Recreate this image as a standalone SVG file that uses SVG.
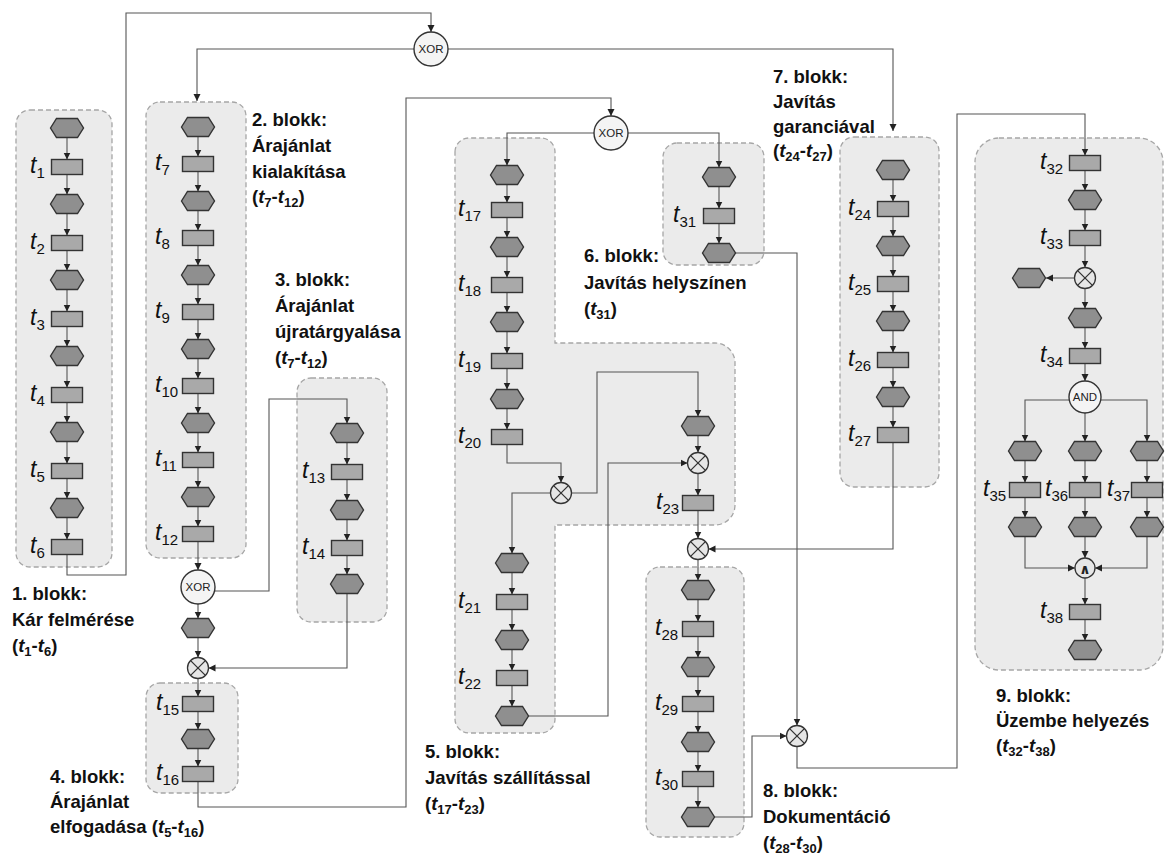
<svg xmlns="http://www.w3.org/2000/svg" width="1166" height="854" viewBox="0 0 1166 854">
<defs>
<style>
.blk{fill:#ebebeb;stroke:#a6a6a6;stroke-width:1.3;stroke-dasharray:5 3}
.hex{fill:#8f8f8f;stroke:#333;stroke-width:1.4}
.task{fill:#a9a9a9;stroke:#333;stroke-width:1.4}
.gate{fill:#f4f4f4;stroke:#333;stroke-width:1.4}
.xg{fill:#e6e6e6;stroke:#333;stroke-width:1.3}
.gt{font-family:"Liberation Sans",Arial,sans-serif;font-size:11.5px;fill:#222;text-anchor:middle}
.tl{font-family:"Liberation Sans",Arial,sans-serif;font-size:23px;font-style:italic;fill:#111}
.sb{font-size:15px;font-style:normal}
.lb{font-family:"Liberation Sans",Arial,sans-serif;font-size:18.5px;font-weight:bold;fill:#111}
.it{font-style:italic}
.ls{font-size:13px}
.cn path{fill:none;stroke:#555;stroke-width:1.1;marker-end:url(#ar)}
</style>
<marker id="ar" markerWidth="8" markerHeight="8" refX="7" refY="4" orient="auto" markerUnits="userSpaceOnUse"><path d="M0,0.5 L7,4 L0,7.5 Z" fill="#222"/></marker>
<path id="hx" d="M-16.5,0 L-10.5,-9.5 L10.5,-9.5 L16.5,0 L10.5,9.5 L-10.5,9.5 Z"/>
<rect id="rc" x="-15.5" y="-7.5" width="31" height="15"/>
<g id="xo"><circle r="10.5"/><path d="M-7.4,-7.4 L7.4,7.4 M7.4,-7.4 L-7.4,7.4"/></g>
</defs>

<g id="blocks">
<rect id="blk1" class="blk" x="16" y="110" width="96" height="457" rx="14"/>
<rect id="blk2" class="blk" x="146" y="102" width="100" height="456" rx="14"/>
<rect id="blk3" class="blk" x="297" y="378" width="90" height="244" rx="14"/>
<rect id="blk4" class="blk" x="146" y="683" width="92" height="110" rx="14"/>
<path id="blk5" class="blk" d="M455,152 A14,14 0 0 1 469,138 H541 A14,14 0 0 1 555,152 V343 H715 A20,20 0 0 1 735,363 V505 A20,20 0 0 1 715,525 H555 V719 A14,14 0 0 1 541,733 H469 A14,14 0 0 1 455,719 Z"/>
<rect id="blk6" class="blk" x="663" y="143" width="101" height="122" rx="14"/>
<rect id="blk7" class="blk" x="840" y="137" width="99" height="350" rx="14"/>
<rect id="blk8" class="blk" x="646" y="567" width="98" height="270" rx="14"/>
<rect id="blk9" class="blk" x="975" y="138" width="188" height="532" rx="24"/>
</g>

<g id="connectors" class="cn">
<!-- block 1 -->
<path d="M67,137.5V159.5"/><path d="M67,174.5V194.5"/><path d="M67,213.5V235.5"/><path d="M67,250.5V270.5"/><path d="M67,289.5V311.5"/><path d="M67,326.5V346.5"/><path d="M67,365.5V387.5"/><path d="M67,402.5V422.5"/><path d="M67,441.5V463.5"/><path d="M67,478.5V498.5"/><path d="M67,517.5V539.5"/>
<!-- block 2 -->
<path d="M198,136.5V156.5"/><path d="M198,171.5V191.5"/><path d="M198,210.5V230.5"/><path d="M198,245.5V265.5"/><path d="M198,284.5V304.5"/><path d="M198,319.5V339.5"/><path d="M198,358.5V378.5"/><path d="M198,393.5V413.5"/><path d="M198,432.5V452.5"/><path d="M198,467.5V487.5"/><path d="M198,506.5V526.5"/>
<!-- block 3 -->
<path d="M347,442.5V464.5"/><path d="M347,479.5V500.5"/><path d="M347,519.5V540.5"/><path d="M347,555.5V574.5"/>
<!-- block 4 -->
<path d="M198,711.5V729.5"/><path d="M198,748.5V766.5"/>
<!-- block 5 -->
<path d="M507,184.5V202.5"/><path d="M507,217.5V237.5"/><path d="M507,256.5V277.5"/><path d="M507,292.5V312.5"/><path d="M507,331.5V353.5"/><path d="M507,368.5V389.5"/><path d="M507,408.5V429.5"/>
<path d="M512,572.5V594.5"/><path d="M512,609.5V630.5"/><path d="M512,649.5V670.5"/><path d="M512,685.5V706.5"/>
<!-- block 6 -->
<path d="M719,186.5V208.5"/><path d="M719,223.5V243.5"/>
<!-- block 7 -->
<path d="M893,179.5V201.5"/><path d="M893,216.5V236.5"/><path d="M893,255.5V276.5"/><path d="M893,291.5V311.5"/><path d="M893,330.5V352.5"/><path d="M893,367.5V387.5"/><path d="M893,406.5V427.5"/>
<!-- block 8 -->
<path d="M698,599.5V621.5"/><path d="M698,636.5V657.5"/><path d="M698,676.5V696.5"/><path d="M698,711.5V732.5"/><path d="M698,751.5V771.5"/><path d="M698,786.5V807.5"/>
<!-- block 9 -->
<path d="M1085,170.5V190.5"/><path d="M1085,209.5V230.5"/><path d="M1085,245.5V267.5"/><path d="M1085,288.5V308.5"/><path d="M1085,327.5V348.5"/><path d="M1085,363.5V381"/>
<path d="M1074.5,278H1046"/>
<path d="M1069,400H1025V441.5"/><path d="M1085,413V441.5"/><path d="M1101,400H1147V441.5"/>
<path d="M1025,460.5V482.5"/><path d="M1085,460.5V482.5"/><path d="M1147,460.5V482.5"/>
<path d="M1025,497.5V517.5"/><path d="M1085,497.5V517.5"/><path d="M1147,497.5V517.5"/>
<path d="M1025,536.5V568H1075"/><path d="M1085,536.5V558"/><path d="M1147,536.5V568H1095"/>
<path d="M1085,578V604.5"/><path d="M1085,619.5V640.5"/>
<!-- long connectors -->
<path d="M67,554.5V575H126V13H431V32"/>
<path d="M414,49H197V101"/>
<path d="M448,49H893V131"/>
<path d="M198,541.5V570"/>
<path d="M198,604V618.5"/>
<path d="M214,591H269V399H347V423.5"/>
<path d="M198,637.5V657.5"/>
<path d="M347,593.5V668H208.5"/>
<path d="M198,678.5V696.5"/>
<path d="M198,781.5V807H406V98H611V116"/>
<path d="M594,133H507V165.5"/>
<path d="M628,133H719V167.5"/>
<path d="M507,444.5V463H561V482.5"/>
<path d="M550.5,493H512V553.5"/>
<path d="M571.5,493H597V372H698V416.5"/>
<path d="M698,435.5V452.5"/>
<path d="M528.5,716H608V463H687.5"/>
<path d="M698,473.5V495.5"/>
<path d="M698,510.5V538.5"/>
<path d="M893,442.5V549H708.5"/>
<path d="M698,559.5V580.5"/>
<path d="M735.5,253H797V725.5"/>
<path d="M714.5,817H752V736H786.5"/>
<path d="M797,746.5V768H957V114H1085V155.5"/>
</g>

<g id="nodes">
<!-- block 1 -->
<g id="b1-e1"><use href="#hx" class="hex" x="67" y="128"/></g>
<g id="b1-t1"><use href="#rc" class="task" x="67" y="167"/><text class="tl" x="30" y="173">t<tspan class="sb" dy="5">1</tspan></text></g>
<g id="b1-e2"><use href="#hx" class="hex" x="67" y="204"/></g>
<g id="b1-t2"><use href="#rc" class="task" x="67" y="243"/><text class="tl" x="30" y="249">t<tspan class="sb" dy="5">2</tspan></text></g>
<g id="b1-e3"><use href="#hx" class="hex" x="67" y="280"/></g>
<g id="b1-t3"><use href="#rc" class="task" x="67" y="319"/><text class="tl" x="30" y="325">t<tspan class="sb" dy="5">3</tspan></text></g>
<g id="b1-e4"><use href="#hx" class="hex" x="67" y="356"/></g>
<g id="b1-t4"><use href="#rc" class="task" x="67" y="395"/><text class="tl" x="30" y="401">t<tspan class="sb" dy="5">4</tspan></text></g>
<g id="b1-e5"><use href="#hx" class="hex" x="67" y="432"/></g>
<g id="b1-t5"><use href="#rc" class="task" x="67" y="471"/><text class="tl" x="30" y="477">t<tspan class="sb" dy="5">5</tspan></text></g>
<g id="b1-e6"><use href="#hx" class="hex" x="67" y="508"/></g>
<g id="b1-t6"><use href="#rc" class="task" x="67" y="547"/><text class="tl" x="30" y="553">t<tspan class="sb" dy="5">6</tspan></text></g>
<!-- top XOR -->
<g id="xor1"><circle class="gate" cx="431" cy="49" r="17"/><text class="gt" x="431" y="53">XOR</text></g>
<!-- block 2 -->
<g id="b2-e1"><use href="#hx" class="hex" x="198" y="127"/></g>
<g id="b2-t7"><use href="#rc" class="task" x="198" y="164"/><text class="tl" x="155" y="170">t<tspan class="sb" dy="5">7</tspan></text></g>
<g id="b2-e2"><use href="#hx" class="hex" x="198" y="201"/></g>
<g id="b2-t8"><use href="#rc" class="task" x="198" y="238"/><text class="tl" x="155" y="244">t<tspan class="sb" dy="5">8</tspan></text></g>
<g id="b2-e3"><use href="#hx" class="hex" x="198" y="275"/></g>
<g id="b2-t9"><use href="#rc" class="task" x="198" y="312"/><text class="tl" x="155" y="318">t<tspan class="sb" dy="5">9</tspan></text></g>
<g id="b2-e4"><use href="#hx" class="hex" x="198" y="349"/></g>
<g id="b2-t10"><use href="#rc" class="task" x="198" y="386"/><text class="tl" x="155" y="392">t<tspan class="sb" dy="5">10</tspan></text></g>
<g id="b2-e5"><use href="#hx" class="hex" x="198" y="423"/></g>
<g id="b2-t11"><use href="#rc" class="task" x="198" y="460"/><text class="tl" x="155" y="466">t<tspan class="sb" dy="5">11</tspan></text></g>
<g id="b2-e6"><use href="#hx" class="hex" x="198" y="497"/></g>
<g id="b2-t12"><use href="#rc" class="task" x="198" y="534"/><text class="tl" x="155" y="540">t<tspan class="sb" dy="5">12</tspan></text></g>
<g id="xor2"><circle class="gate" cx="198" cy="587" r="17"/><text class="gt" x="198" y="591">XOR</text></g>
<g id="e-after-xor2"><use href="#hx" class="hex" x="198" y="628"/></g>
<g id="xo1"><use href="#xo" class="xg" x="198" y="668"/></g>
<!-- block 3 -->
<g id="b3-e1"><use href="#hx" class="hex" x="347" y="433"/></g>
<g id="b3-t13"><use href="#rc" class="task" x="347" y="472"/><text class="tl" x="302" y="478">t<tspan class="sb" dy="5">13</tspan></text></g>
<g id="b3-e2"><use href="#hx" class="hex" x="347" y="510"/></g>
<g id="b3-t14"><use href="#rc" class="task" x="347" y="548"/><text class="tl" x="302" y="554">t<tspan class="sb" dy="5">14</tspan></text></g>
<g id="b3-e3"><use href="#hx" class="hex" x="347" y="584"/></g>
<!-- block 4 -->
<g id="b4-t15"><use href="#rc" class="task" x="198" y="704"/><text class="tl" x="156" y="710">t<tspan class="sb" dy="5">15</tspan></text></g>
<g id="b4-e1"><use href="#hx" class="hex" x="198" y="739"/></g>
<g id="b4-t16"><use href="#rc" class="task" x="198" y="774"/><text class="tl" x="156" y="780">t<tspan class="sb" dy="5">16</tspan></text></g>
<!-- XOR 3 -->
<g id="xor3"><circle class="gate" cx="611" cy="133" r="17"/><text class="gt" x="611" y="137">XOR</text></g>
<!-- block 5 -->
<g id="b5-e1"><use href="#hx" class="hex" x="507" y="175"/></g>
<g id="b5-t17"><use href="#rc" class="task" x="507" y="210"/><text class="tl" x="458" y="216">t<tspan class="sb" dy="5">17</tspan></text></g>
<g id="b5-e2"><use href="#hx" class="hex" x="507" y="247"/></g>
<g id="b5-t18"><use href="#rc" class="task" x="507" y="285"/><text class="tl" x="458" y="291">t<tspan class="sb" dy="5">18</tspan></text></g>
<g id="b5-e3"><use href="#hx" class="hex" x="507" y="322"/></g>
<g id="b5-t19"><use href="#rc" class="task" x="507" y="361"/><text class="tl" x="458" y="367">t<tspan class="sb" dy="5">19</tspan></text></g>
<g id="b5-e4"><use href="#hx" class="hex" x="507" y="399"/></g>
<g id="b5-t20"><use href="#rc" class="task" x="507" y="437"/><text class="tl" x="458" y="443">t<tspan class="sb" dy="5">20</tspan></text></g>
<g id="xo2"><use href="#xo" class="xg" x="561" y="493"/></g>
<g id="b5-e5"><use href="#hx" class="hex" x="512" y="563"/></g>
<g id="b5-t21"><use href="#rc" class="task" x="512" y="602"/><text class="tl" x="458" y="608">t<tspan class="sb" dy="5">21</tspan></text></g>
<g id="b5-e6"><use href="#hx" class="hex" x="512" y="640"/></g>
<g id="b5-t22"><use href="#rc" class="task" x="512" y="678"/><text class="tl" x="458" y="684">t<tspan class="sb" dy="5">22</tspan></text></g>
<g id="b5-e7"><use href="#hx" class="hex" x="512" y="716"/></g>
<g id="b5-e8"><use href="#hx" class="hex" x="698" y="426"/></g>
<g id="xo3"><use href="#xo" class="xg" x="698" y="463"/></g>
<g id="b5-t23"><use href="#rc" class="task" x="698" y="503"/><text class="tl" x="656" y="509">t<tspan class="sb" dy="5">23</tspan></text></g>
<g id="xo4"><use href="#xo" class="xg" x="698" y="549"/></g>
<!-- block 6 -->
<g id="b6-e1"><use href="#hx" class="hex" x="719" y="177"/></g>
<g id="b6-t31"><use href="#rc" class="task" x="719" y="216"/><text class="tl" x="673" y="222">t<tspan class="sb" dy="5">31</tspan></text></g>
<g id="b6-e2"><use href="#hx" class="hex" x="719" y="253"/></g>
<!-- block 7 -->
<g id="b7-e1"><use href="#hx" class="hex" x="893" y="170"/></g>
<g id="b7-t24"><use href="#rc" class="task" x="893" y="209"/><text class="tl" x="848" y="215">t<tspan class="sb" dy="5">24</tspan></text></g>
<g id="b7-e2"><use href="#hx" class="hex" x="893" y="246"/></g>
<g id="b7-t25"><use href="#rc" class="task" x="893" y="284"/><text class="tl" x="848" y="290">t<tspan class="sb" dy="5">25</tspan></text></g>
<g id="b7-e3"><use href="#hx" class="hex" x="893" y="321"/></g>
<g id="b7-t26"><use href="#rc" class="task" x="893" y="360"/><text class="tl" x="848" y="366">t<tspan class="sb" dy="5">26</tspan></text></g>
<g id="b7-e4"><use href="#hx" class="hex" x="893" y="397"/></g>
<g id="b7-t27"><use href="#rc" class="task" x="893" y="435"/><text class="tl" x="848" y="441">t<tspan class="sb" dy="5">27</tspan></text></g>
<!-- block 8 -->
<g id="b8-e1"><use href="#hx" class="hex" x="698" y="590"/></g>
<g id="b8-t28"><use href="#rc" class="task" x="698" y="629"/><text class="tl" x="655" y="635">t<tspan class="sb" dy="5">28</tspan></text></g>
<g id="b8-e2"><use href="#hx" class="hex" x="698" y="667"/></g>
<g id="b8-t29"><use href="#rc" class="task" x="698" y="704"/><text class="tl" x="655" y="710">t<tspan class="sb" dy="5">29</tspan></text></g>
<g id="b8-e3"><use href="#hx" class="hex" x="698" y="742"/></g>
<g id="b8-t30"><use href="#rc" class="task" x="698" y="779"/><text class="tl" x="655" y="785">t<tspan class="sb" dy="5">30</tspan></text></g>
<g id="b8-e4"><use href="#hx" class="hex" x="698" y="817"/></g>
<g id="xo5"><use href="#xo" class="xg" x="797" y="736"/></g>
<!-- block 9 -->
<g id="b9-t32"><use href="#rc" class="task" x="1085" y="163"/><text class="tl" x="1040" y="169">t<tspan class="sb" dy="5">32</tspan></text></g>
<g id="b9-e1"><use href="#hx" class="hex" x="1085" y="200"/></g>
<g id="b9-t33"><use href="#rc" class="task" x="1085" y="238"/><text class="tl" x="1040" y="244">t<tspan class="sb" dy="5">33</tspan></text></g>
<g id="xo6"><use href="#xo" class="xg" x="1085" y="278"/></g>
<g id="b9-e-side"><use href="#hx" class="hex" x="1029" y="278"/></g>
<g id="b9-e2"><use href="#hx" class="hex" x="1085" y="318"/></g>
<g id="b9-t34"><use href="#rc" class="task" x="1085" y="356"/><text class="tl" x="1040" y="362">t<tspan class="sb" dy="5">34</tspan></text></g>
<g id="and1"><circle class="gate" cx="1085" cy="397" r="16"/><text class="gt" x="1085" y="401">AND</text></g>
<g id="b9-e3"><use href="#hx" class="hex" x="1025" y="451"/></g>
<g id="b9-e4"><use href="#hx" class="hex" x="1085" y="451"/></g>
<g id="b9-e5"><use href="#hx" class="hex" x="1147" y="451"/></g>
<g id="b9-t35"><use href="#rc" class="task" x="1025" y="490"/><text class="tl" x="983" y="496">t<tspan class="sb" dy="5">35</tspan></text></g>
<g id="b9-t36"><use href="#rc" class="task" x="1085" y="490"/><text class="tl" x="1045" y="496">t<tspan class="sb" dy="5">36</tspan></text></g>
<g id="b9-t37"><use href="#rc" class="task" x="1147" y="490"/><text class="tl" x="1107" y="496">t<tspan class="sb" dy="5">37</tspan></text></g>
<g id="b9-e6"><use href="#hx" class="hex" x="1025" y="527"/></g>
<g id="b9-e7"><use href="#hx" class="hex" x="1085" y="527"/></g>
<g id="b9-e8"><use href="#hx" class="hex" x="1147" y="527"/></g>
<g id="and2"><circle class="xg" cx="1085" cy="568" r="10"/><text x="1085" y="573.5" text-anchor="middle" font-family="DejaVu Sans, sans-serif" font-size="14" font-weight="bold" fill="#222">∧</text></g>
<g id="b9-t38"><use href="#rc" class="task" x="1085" y="612"/><text class="tl" x="1040" y="618">t<tspan class="sb" dy="5">38</tspan></text></g>
<g id="b9-e9"><use href="#hx" class="hex" x="1085" y="650"/></g>
</g>

<g id="labels">
<g id="lbl1">
<text class="lb" x="12" y="600">1. blokk:</text>
<text class="lb" x="12" y="626">Kár felmérése</text>
<text class="lb" x="12" y="652">(<tspan class="it">t</tspan><tspan class="ls" dy="4">1</tspan><tspan dy="-4">-</tspan><tspan class="it">t</tspan><tspan class="ls" dy="4">6</tspan><tspan dy="-4">)</tspan></text>
</g>
<g id="lbl2">
<text class="lb" x="252" y="126">2. blokk:</text>
<text class="lb" x="252" y="152">Árajánlat</text>
<text class="lb" x="252" y="178">kialakítása</text>
<text class="lb" x="252" y="203">(<tspan class="it">t</tspan><tspan class="ls" dy="4">7</tspan><tspan dy="-4">-</tspan><tspan class="it">t</tspan><tspan class="ls" dy="4">12</tspan><tspan dy="-4">)</tspan></text>
</g>
<g id="lbl3">
<text class="lb" x="275" y="286">3. blokk:</text>
<text class="lb" x="275" y="312">Árajánlat</text>
<text class="lb" x="275" y="338">újratárgyalása</text>
<text class="lb" x="275" y="364">(<tspan class="it">t</tspan><tspan class="ls" dy="4">7</tspan><tspan dy="-4">-</tspan><tspan class="it">t</tspan><tspan class="ls" dy="4">12</tspan><tspan dy="-4">)</tspan></text>
</g>
<g id="lbl4">
<text class="lb" x="50" y="783">4. blokk:</text>
<text class="lb" x="50" y="808">Árajánlat</text>
<text class="lb" x="50" y="833">elfogadása (<tspan class="it">t</tspan><tspan class="ls" dy="4">5</tspan><tspan dy="-4">-</tspan><tspan class="it">t</tspan><tspan class="ls" dy="4">16</tspan><tspan dy="-4">)</tspan></text>
</g>
<g id="lbl5">
<text class="lb" x="425" y="758">5. blokk:</text>
<text class="lb" x="425" y="784">Javítás szállítással</text>
<text class="lb" x="425" y="810">(<tspan class="it">t</tspan><tspan class="ls" dy="4">17</tspan><tspan dy="-4">-</tspan><tspan class="it">t</tspan><tspan class="ls" dy="4">23</tspan><tspan dy="-4">)</tspan></text>
</g>
<g id="lbl6">
<text class="lb" x="584" y="262">6. blokk:</text>
<text class="lb" x="584" y="289">Javítás helyszínen</text>
<text class="lb" x="584" y="315">(<tspan class="it">t</tspan><tspan class="ls" dy="4">31</tspan><tspan dy="-4">)</tspan></text>
</g>
<g id="lbl7">
<text class="lb" x="773" y="83">7. blokk:</text>
<text class="lb" x="773" y="108">Javítás</text>
<text class="lb" x="773" y="133">garanciával</text>
<text class="lb" x="773" y="157">(<tspan class="it">t</tspan><tspan class="ls" dy="4">24</tspan><tspan dy="-4">-</tspan><tspan class="it">t</tspan><tspan class="ls" dy="4">27</tspan><tspan dy="-4">)</tspan></text>
</g>
<g id="lbl8">
<text class="lb" x="763" y="797">8. blokk:</text>
<text class="lb" x="763" y="823">Dokumentáció</text>
<text class="lb" x="763" y="849">(<tspan class="it">t</tspan><tspan class="ls" dy="4">28</tspan><tspan dy="-4">-</tspan><tspan class="it">t</tspan><tspan class="ls" dy="4">30</tspan><tspan dy="-4">)</tspan></text>
</g>
<g id="lbl9">
<text class="lb" x="996" y="702">9. blokk:</text>
<text class="lb" x="996" y="727">Üzembe helyezés</text>
<text class="lb" x="996" y="752">(<tspan class="it">t</tspan><tspan class="ls" dy="4">32</tspan><tspan dy="-4">-</tspan><tspan class="it">t</tspan><tspan class="ls" dy="4">38</tspan><tspan dy="-4">)</tspan></text>
</g>
</g>
</svg>
